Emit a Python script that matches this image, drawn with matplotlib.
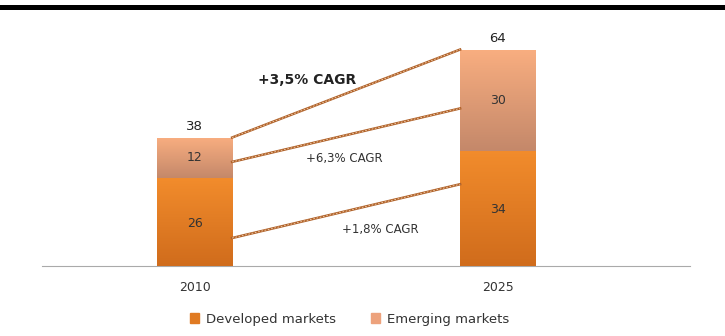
import numpy as np
import matplotlib
matplotlib.use("Agg")
import matplotlib.pyplot as plt
from matplotlib.colors import LinearSegmentedColormap
from matplotlib.patches import Patch
from matplotlib.lines import Line2D

years = ["2010", "2025"]
developed = [26, 34]
emerging = [12, 30]
totals = [38, 64]
# CAGR connector lines: (value at 2010 bar edge, value at 2025 bar edge)
cagr_lines = [(38, 64), (30.8, 46.6), (8.3, 24.2)]
cagr_labels = ["+3,5% CAGR", "+6,3% CAGR", "+1,8% CAGR"]

plt.rcParams["font.family"] = ["DejaVu Sans"]

fig = plt.figure(figsize=(7.25, 3.36), dpi=100)
ax = fig.add_axes([0.058, 0.208, 0.894, 0.705])

x = np.arange(len(years))
w = 0.248
dev_cmap = LinearSegmentedColormap.from_list("dev", ["#D06C1C", "#F28C2C"])
emg_cmap = LinearSegmentedColormap.from_list("emg", ["#C4886A", "#F9AE80"])

bars_dev = ax.bar(x, developed, w, color="#E87E22", label="Developed markets", zorder=2)
bars_emg = ax.bar(x, emerging, w, bottom=developed, color="#E9A07A", label="Emerging markets", zorder=2)

# vertical gradient fill inside each bar
grad = np.linspace(0, 1, 256).reshape(-1, 1)
for bars, cmap in [(bars_dev, dev_cmap), (bars_emg, emg_cmap)]:
    for b in bars:
        x0, y0 = b.get_x(), b.get_y()
        im = ax.imshow(grad, cmap=cmap, origin="lower", aspect="auto",
                       extent=[x0, x0 + b.get_width(), y0, y0 + b.get_height()], zorder=3)
        im.set_clip_path(b)
        b.set_alpha(0)

# connector lines
for y0, y1 in cagr_lines:
    ax.plot([x[0] + w / 2, x[1] - w / 2], [y0, y1], color="#B0622A", lw=1.8, zorder=4)
    ax.plot([x[0] + w / 2, x[1] - w / 2], [y0, y1], color="#F3D2B0", lw=0.6,
            dashes=(2, 2), zorder=5)

ax.text(0.371, 54.9, cagr_labels[0], fontsize=10, fontweight="bold", ha="center", va="center", color="#222222")
ax.text(0.494, 31.9, cagr_labels[1], fontsize=8.5, ha="center", va="center", color="#333333")
ax.text(0.612, 10.9, cagr_labels[2], fontsize=8.5, ha="center", va="center", color="#333333")

# value labels
for i in range(len(years)):
    ax.text(x[i], developed[i] / 2 - 0.4, str(developed[i]), ha="center", va="center", fontsize=9, color="#333333", zorder=6)
    ax.text(x[i], developed[i] + emerging[i] / 2, str(emerging[i]), ha="center", va="center", fontsize=9, color="#333333", zorder=6)
    ax.text(x[i], totals[i] + 1.3, str(totals[i]), ha="center", va="bottom", fontsize=9.5, color="#222222")

ax.set_xlim(-0.503, 1.635)
ax.set_ylim(0, 70)
ax.set_xticks(x)
ax.set_xticklabels(years, fontsize=9, color="#333333")
ax.tick_params(axis="x", length=0, pad=11)
ax.set_yticks([])
for s in ["top", "right", "left"]:
    ax.spines[s].set_visible(False)
ax.spines["bottom"].set_color("#AAAAAA")

handles = [Patch(color="#E07A22"), Patch(color="#EDA27C")]
fig.legend(handles, ["Developed markets", "Emerging markets"], loc="center",
           bbox_to_anchor=(0.482, 0.05), ncol=2, frameon=False, fontsize=9.5,
           handlelength=0.7, handleheight=0.7, columnspacing=2.7, handletextpad=0.5,
           labelcolor="#333333")

# thick black rule at the top of the page
fig.add_artist(Line2D([0, 1], [0.978, 0.978], color="black", lw=3.6, transform=fig.transFigure))

fig.savefig("out.png", dpi=100)
